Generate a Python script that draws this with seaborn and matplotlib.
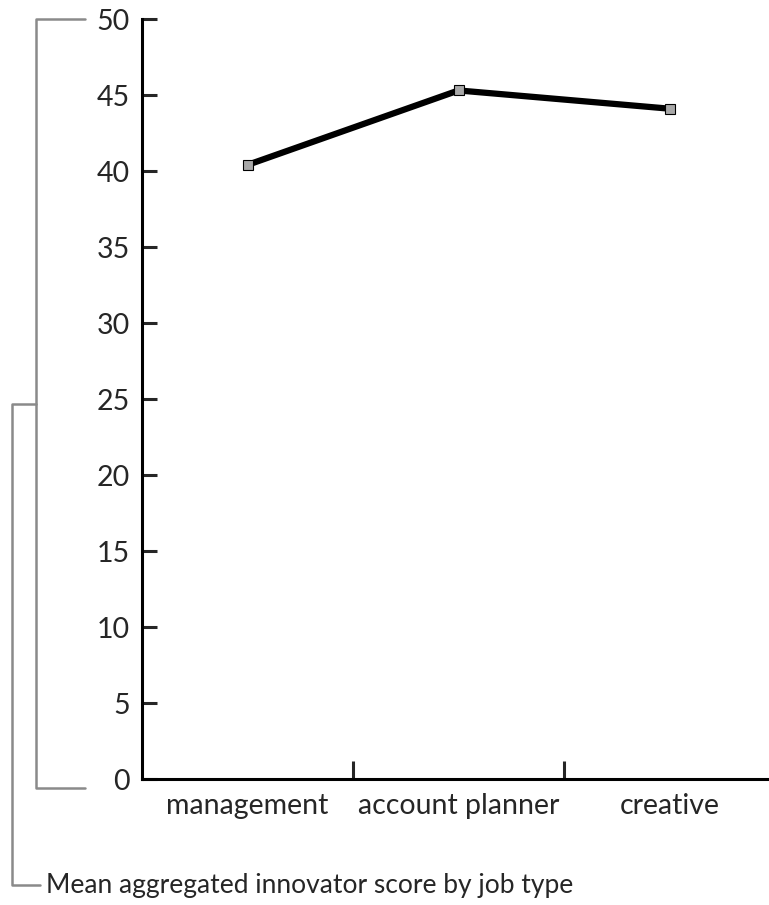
import matplotlib
matplotlib.use('Agg')
import matplotlib.pyplot as plt
import seaborn as sns
import pandas as pd
from matplotlib.lines import Line2D

# data
job_types = ['management', 'account planner', 'creative']
mean_scores = [40.4, 45.3, 44.1]
y_ticks = [0, 5, 10, 15, 20, 25, 30, 35, 40, 45, 50]
caption = 'Mean aggregated innovator score by job type'

df = pd.DataFrame({'job': job_types, 'score': mean_scores})

sns.set_style('white')
plt.rcParams['font.family'] = ['Lato', 'DejaVu Sans']

W, H = 769, 905
fig = plt.figure(figsize=(W / 100, H / 100), dpi=100)
# axes in pixel terms: y axis at x=142, x axis at y=779, top at y=19
ax = fig.add_axes([142 / W, (H - 779) / H, 633 / W, 760 / H])

sns.lineplot(data=df, x='job', y='score', ax=ax, color='black', linewidth=4.5,
             marker='s', markersize=7.5, markerfacecolor='#a8a8a8',
             markeredgecolor='black', markeredgewidth=0.8, sort=False)

ax.set_xlim(-0.5, 2.5)
ax.set_ylim(0, 50)
ax.set_yticks(y_ticks)
ax.set_yticklabels([str(t) for t in y_ticks])
ax.set_xticks(range(len(job_types)))
ax.set_xticklabels(job_types)
ax.set_xticks([0.5, 1.5], minor=True)
ax.set_xlabel('')
ax.set_ylabel('')

for side in ['top', 'right']:
    ax.spines[side].set_visible(False)
for side in ['left', 'bottom']:
    ax.spines[side].set_linewidth(2.2)
    ax.spines[side].set_color('black')

ax.tick_params(axis='y', direction='in', length=11, width=2.2, labelsize=20.5,
               pad=9, left=True)
ax.tick_params(axis='x', which='major', length=0, labelsize=20.5, pad=10)
ax.tick_params(axis='x', which='minor', direction='in', length=13, width=2.2,
               bottom=True)

# grey brackets in pixel coordinates (y from top)
def px(x, y):
    return x / W, (H - y) / H

grey = '#8a8a8a'
pts = [px(85, 19), px(36, 19), px(36, 788), px(85, 788)]
fig.add_artist(Line2D([p[0] for p in pts], [p[1] for p in pts], color=grey, lw=1.8))
pts = [px(36, 404), px(12, 404), px(12, 885), px(40, 885)]
fig.add_artist(Line2D([p[0] for p in pts], [p[1] for p in pts], color=grey, lw=1.8))
fig.text(46 / W, (H - 885) / H, caption, fontsize=19, va='center', ha='left')

fig.savefig('out.png', dpi=100)
